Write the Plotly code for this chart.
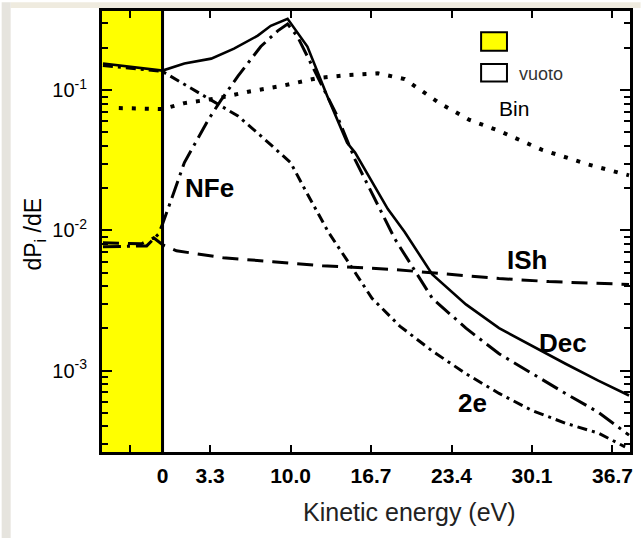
import plotly.graph_objects as go

# ---------------- data ----------------
# x in eV, y = dP/dE (log scale)
dec_x = [-5.62, -0.66, 1.16, 3.39, 5.29, 7.27, 8.35, 9.75, 11.4, 13.06, 14.71, 15.37, 18.1, 19.5, 21.8, 24.6, 27.36, 30.08, 32.89, 35.62, 38.18]
dec_y = [0.155, 0.138, 0.155, 0.168, 0.198, 0.245, 0.288, 0.323, 0.205, 0.0907, 0.0422, 0.0359, 0.0142, 0.00976, 0.00485, 0.00297, 0.00201, 0.00150, 0.00112, 0.000849, 0.000665]

bin_x = [-4.30, -0.66, 1.16, 3.97, 6.69, 9.42, 12.23, 14.71, 17.27, 19.5, 22.4, 24.9, 27.36, 30.9, 34.8, 38.18]
bin_y = [0.0746, 0.0734, 0.0809, 0.0877, 0.0984, 0.108, 0.122, 0.128, 0.132, 0.120, 0.0809, 0.0614, 0.0513, 0.0377, 0.0295, 0.0247]

ish_x = [-5.62, -2.4, -1.4, -0.66, 0.5, 4.38, 8.51, 12.64, 18.68, 23.2, 27.36, 31.5, 38.18]
ish_y = [0.00817, 0.00804, 0.00886, 0.00791, 0.00716, 0.00639, 0.00599, 0.00561, 0.00526, 0.00485, 0.00454, 0.00432, 0.00412]

nfe_x = [-5.62, -1.98, -0.99, -0.66, 0.08, 1.16, 3.14, 4.21, 5.62, 7.52, 8.93, 9.75, 10.58, 12.23, 13.88, 15.37, 17.02, 18.68, 21.8, 24.6, 27.36, 30.08, 32.89, 35.62, 38.18]
nfe_y = [0.00764, 0.00776, 0.00944, 0.0111, 0.0167, 0.0305, 0.0614, 0.0850, 0.126, 0.205, 0.265, 0.297, 0.241, 0.126, 0.0655, 0.0320, 0.0167, 0.00871, 0.00328, 0.00201, 0.00132, 0.000952, 0.000688, 0.000505, 0.000347]

e2_x = [-5.62, -0.66, 3.39, 5.62, 7.52, 10.0, 11.24, 13.14, 14.79, 16.78, 19.09, 21.8, 24.6, 27.36, 30.08, 32.89, 35.62, 37.85]
e2_y = [0.150, 0.136, 0.085, 0.0655, 0.0473, 0.0305, 0.0193, 0.00975, 0.00598, 0.00328, 0.00208, 0.00138, 0.000952, 0.000688, 0.000521, 0.000422, 0.000359, 0.000286]

x_tick_pos = [-0.66, 3.3, 10.0, 16.7, 23.4, 30.1, 36.8]
x_tick_text = ["0", "3.3", "10.0", "16.7", "23.4", "30.1", "36.7"]
y_tick_vals = [0.1, 0.01, 0.001]
y_tick_text = ["10<sup>-1</sup>", "10<sup>-2</sup>", "10<sup>-3</sup>"]
y_minor_vals = [m * 10.0 ** e for e in (-4, -3, -2, -1) for m in range(2, 10)]

zero_edge = -0.66
x_range = [-5.7, 38.26]
y_range = [-3.58, -0.435]

BOLDF = "Liberation Sans, Arial, sans-serif"
REG = "Liberation Sans, Arial, sans-serif"

fig = go.Figure()

def add(x, y, dash, width=3):
    fig.add_trace(go.Scatter(x=x, y=y, mode="lines",
                             line=dict(color="black", width=width, dash=dash),
                             showlegend=False, hoverinfo="skip"))

add(bin_x, bin_y, "4px,9px", 4)
add(ish_x, ish_y, "16px,9px", 3)
add(e2_x, e2_y, "10px,5px,3px,5px", 3)
add(nfe_x, nfe_y, "18px,6px,3px,6px", 3)
add(dec_x, dec_y, "solid", 2.6)

shapes = [
    dict(type="rect", xref="x", yref="paper", x0=x_range[0], x1=zero_edge, y0=0, y1=1,
         fillcolor="#ffff00", line=dict(width=0), layer="below"),
    dict(type="line", xref="x", yref="paper", x0=zero_edge, x1=zero_edge, y0=0, y1=1,
         line=dict(color="black", width=3), layer="above"),
    dict(type="rect", xref="paper", yref="paper", x0=0.718, x1=0.767, y0=0.910, y1=0.952,
         fillcolor="#ffff00", line=dict(color="black", width=2)),
    dict(type="rect", xref="paper", yref="paper", x0=0.718, x1=0.767, y0=0.840, y1=0.880,
         fillcolor="white", line=dict(color="black", width=2)),
    dict(type="rect", xref="paper", yref="paper", x0=-0.19, x1=-0.173, y0=-0.2, y1=1.02,
         fillcolor="#e6e4de", line=dict(width=0)),
    dict(type="rect", xref="paper", yref="paper", x0=-0.173, x1=1.02, y0=1.0067, y1=1.02,
         fillcolor="#efebdf", line=dict(width=0), layer="below"),
]

ann = []
def lab(text, x, y, size=26, family=BOLDF, bold=True, color="black", xanchor="center"):
    t = "<b>%s</b>" % text if bold else text
    ann.append(dict(text=t, x=x, y=y, xref="paper", yref="paper", showarrow=False,
                    font=dict(family=family, size=size, color=color),
                    xanchor=xanchor, yanchor="middle"))

lab("NFe", 0.203, 0.598)
lab("ISh", 0.8045, 0.436)
lab("Dec", 0.874, 0.247)
lab("2e", 0.701, 0.110)
lab("Bin", 0.780, 0.780, size=21, family=REG, bold=False)
lab("vuoto", 0.786, 0.858, size=18, family=REG, bold=False, color="#333333", xanchor="left")
# white strip hiding the top half of "vuoto"
ann.append(dict(text=".", x=0.786, y=0.8775, xref="paper", yref="paper", showarrow=False,
                font=dict(size=6, color="white"),
                width=46, height=7, bgcolor="white", borderpad=0,
                xanchor="left", yanchor="middle"))
lab("Kinetic energy (eV)", 0.583, -0.137, size=25, family=REG, bold=False, color="#222222")
ann.append(dict(text="dP<sub>i</sub> /dE", x=-0.128, y=0.494, xref="paper", yref="paper",
                showarrow=False, textangle=-90, font=dict(family=REG, size=23, color="black"),
                xanchor="center", yanchor="middle"))

fig.update_layout(
    width=641, height=538,
    margin=dict(l=102, r=9, t=8, b=86),
    paper_bgcolor="white", plot_bgcolor="white",
    shapes=shapes, annotations=ann,
    xaxis=dict(range=x_range, tickmode="array", tickvals=x_tick_pos,
               ticktext=["<b>%s</b>" % t for t in x_tick_text],
               ticks="inside", ticklen=7, tickwidth=2, tickcolor="black",
               showline=True, linewidth=3, linecolor="black", mirror="ticks",
               showgrid=False, zeroline=False, ticklabelstandoff=3,
               tickfont=dict(family=BOLDF, size=21, color="black"),
               minor=dict(tickvals=[-3.4], ticks="inside", ticklen=7, tickwidth=2, tickcolor="black", showgrid=False)),
    yaxis=dict(type="log", range=y_range, tickmode="array", tickvals=y_tick_vals, ticktext=y_tick_text,
               ticks="inside", ticklen=10, tickwidth=2, tickcolor="black",
               showline=True, linewidth=3, linecolor="black", mirror="ticks",
               showgrid=False, zeroline=False, ticklabelstandoff=8,
               tickfont=dict(family=REG, size=20, color="black"),
               minor=dict(tickvals=y_minor_vals, ticks="inside", ticklen=6, tickwidth=2, tickcolor="black", showgrid=False)),
)

fig.write_html("out.html")
